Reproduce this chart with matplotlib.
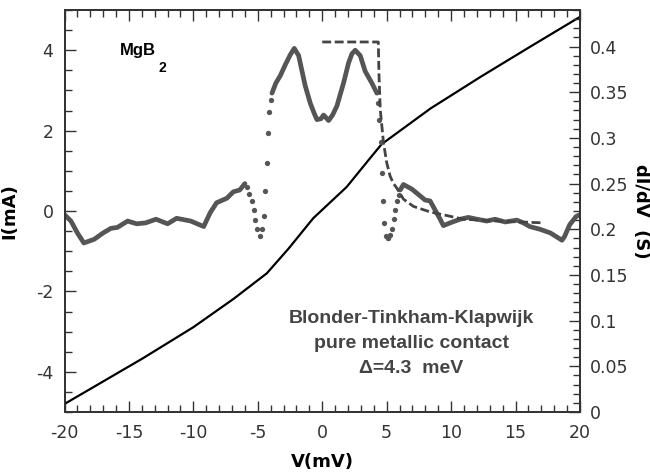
import numpy as np
import matplotlib
matplotlib.use("Agg")
import matplotlib.pyplot as plt
from matplotlib.ticker import MultipleLocator, FuncFormatter

plt.rcParams['font.family'] = ['Liberation Sans', 'DejaVu Sans']
plt.rcParams['axes.unicode_minus'] = False

# I-V curve (left axis, mA)
iv_v = [-20, -17, -13.9, -10, -6.9, -4.3, -2.6, -0.7, 1.9, 3.6, 4.6, 8.4, 12.3, 16.1, 20]
iv_i = [-4.8, -4.24, -3.66, -2.89, -2.19, -1.55, -0.93, -0.18, 0.60, 1.27, 1.66, 2.55, 3.34, 4.08, 4.83]

# measured dI/dV (right axis, S) - dense parts
left_v = [-20, -19.5, -19.0, -18.5, -17.7, -17.0, -16.4, -15.9, -15.1, -14.4, -13.7, -12.9,
          -12.0, -11.3, -10.2, -9.2, -8.7, -8.2, -7.4, -6.9, -6.4, -6.0]
left_g = [0.216, 0.209, 0.196, 0.185, 0.189, 0.196, 0.201, 0.202, 0.209, 0.206, 0.207, 0.211,
          0.206, 0.212, 0.209, 0.203, 0.218, 0.229, 0.234, 0.241, 0.243, 0.250]
mid_v = [-3.9, -3.6, -3.26, -2.87, -2.48, -2.17, -1.83, -1.57, -1.32, -0.93, -0.6, -0.41, -0.1,
         0.1, 0.3, 0.49, 0.8, 1.14, 1.65, 2.04, 2.3, 2.56, 2.95, 3.33, 3.85, 4.24]
mid_g = [0.349, 0.360, 0.368, 0.380, 0.391, 0.398, 0.390, 0.373, 0.357, 0.338, 0.326, 0.320, 0.321,
         0.325, 0.322, 0.319, 0.325, 0.335, 0.360, 0.382, 0.392, 0.396, 0.390, 0.373, 0.360, 0.349]
right_v = [6.05, 6.3, 6.95, 7.47, 7.98, 8.37, 8.76, 9.15, 9.4, 9.92, 10.7, 11.34, 12.0, 12.77,
           13.4, 14.2, 15.1, 15.6, 16.1, 16.9, 17.7, 18.6, 18.8, 19.2, 19.7, 20.0]
right_g = [0.243, 0.249, 0.244, 0.238, 0.232, 0.231, 0.221, 0.211, 0.204, 0.207, 0.211, 0.213,
           0.211, 0.209, 0.211, 0.208, 0.210, 0.207, 0.203, 0.200, 0.196, 0.188, 0.192, 0.205,
           0.214, 0.216]

# sparse points on the steep flanks
dots_v = [-5.85, -5.71, -5.45, -5.33, -5.19, -5.06, -4.86, -4.67, -4.54, -4.42, -4.3, -4.2, -4.1, -4.0,
          4.3, 4.42, 4.52, 4.63, 4.72, 4.83, 4.95, 5.07, 5.14, 5.27, 5.4, 5.53, 5.66, 5.79, 5.92]
dots_g = [0.246, 0.239, 0.231, 0.221, 0.210, 0.200, 0.193, 0.200, 0.215, 0.242, 0.273, 0.305, 0.328, 0.342,
          0.338, 0.320, 0.295, 0.262, 0.231, 0.207, 0.193, 0.190, 0.190, 0.194, 0.200, 0.211, 0.221,
          0.231, 0.238]

# BTK fit
btk_v = [0, 4.35, 4.4, 4.5, 4.75, 5.0, 5.27, 5.53, 5.79, 6.3, 7.08, 8.37, 9.67, 10.95, 13.5, 17.2]
btk_g = [0.405, 0.405, 0.37, 0.331, 0.295, 0.273, 0.258, 0.250, 0.245, 0.233, 0.225, 0.219,
         0.215, 0.211, 0.209, 0.207]

gray = '#555555'
dark = '#333333'
tick_font = ['DejaVu Sans']
label_font = ['DejaVu Sans']

fig = plt.figure(figsize=(6.5, 4.72), dpi=100)
ax = fig.add_axes([64.5 / 650, 60 / 472, 515.5 / 650, 402 / 472])
ax2 = ax.twinx()

ax.plot(iv_v, iv_i, color='black', lw=1.6, zorder=3)

for vv, gg in [(left_v, left_g), (mid_v, mid_g), (right_v, right_g)]:
    ax2.plot(vv, gg, color=gray, lw=3.4, solid_capstyle='round', solid_joinstyle='round')
ax2.plot(dots_v, dots_g, 'o', color=gray, ms=3.8, mec='none')
ax2.plot(btk_v, btk_g, color='#444444', lw=2.0, dashes=(3.2, 1.3))

ax.set_xlim(-20, 20)
ax.set_ylim(-5, 5)
ax2.set_ylim(0, 0.44)

ax.xaxis.set_major_locator(MultipleLocator(5))
ax.xaxis.set_minor_locator(MultipleLocator(1))
ax.yaxis.set_major_locator(MultipleLocator(2))
ax.yaxis.set_minor_locator(MultipleLocator(0.5))
ax2.yaxis.set_major_locator(MultipleLocator(0.05))
ax2.yaxis.set_minor_locator(MultipleLocator(0.01))
ax2.yaxis.set_major_formatter(FuncFormatter(lambda x, p: '%g' % round(x, 3)))

ax.tick_params(which='both', direction='in', top=True, right=False, colors=dark,
               labelsize=12.5, labelcolor='#333333', width=1.0)
ax.tick_params(which='major', length=8)
ax.tick_params(which='minor', length=5)
ax.tick_params(axis='x', pad=9)
ax.tick_params(axis='y', pad=8)
ax2.tick_params(which='both', direction='in', colors=dark, labelsize=12.5,
                labelcolor='#333333', width=1.0, pad=7)
ax2.tick_params(which='major', length=8)
ax2.tick_params(which='minor', length=5)

for lab in ax.get_xticklabels() + ax.get_yticklabels() + ax2.get_yticklabels():
    lab.set_family(tick_font)

for a in (ax, ax2):
    for s in a.spines.values():
        s.set_color(dark)
        s.set_linewidth(1.3)

ax.set_xlabel('V(mV)', fontsize=13, fontweight='bold', family=label_font)
ax.xaxis.set_label_coords(0.5, -0.102)
ax.set_ylabel('I(mA)', fontsize=13, fontweight='bold', family=label_font)
ax.yaxis.set_label_coords(-0.09, 0.5)
ax2.set_ylabel('dI/dV  (S)', fontsize=13, fontweight='bold', rotation=270, family=label_font)
ax2.yaxis.set_label_coords(1.135, 0.5)

ax.text(-14.3, 4.0, 'MgB', fontsize=12, fontweight='bold', ha='center', va='center')
ax.text(-12.4, 3.55, '2', fontsize=10, fontweight='bold', ha='center', va='center')

ax.text(6.9, -2.67, 'Blonder-Tinkham-Klapwijk', fontsize=14, fontweight='bold',
        color='#444444', ha='center', va='center')
ax.text(6.9, -3.3, 'pure metallic contact', fontsize=14, fontweight='bold',
        color='#444444', ha='center', va='center')
ax.text(6.9, -3.93, '\u0394=4.3  meV', fontsize=14, fontweight='bold',
        color='#444444', ha='center', va='center')

fig.savefig('out.png', dpi=100)
